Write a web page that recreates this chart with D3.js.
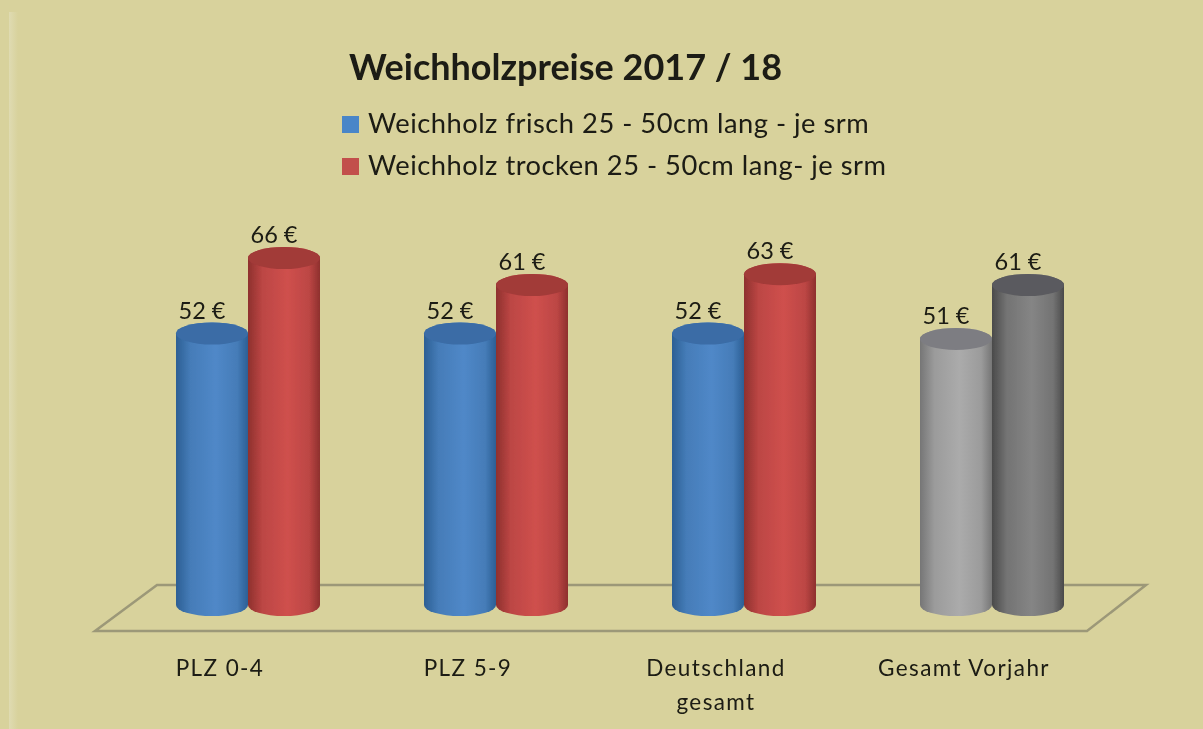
<!DOCTYPE html>
<html>
<head>
<meta charset="utf-8">
<script src="https://cdn.jsdelivr.net/npm/d3@7"></script>
<style>
  html, body { margin: 0; background: #d8d29c; }
  text { font-family: Lato, "Open Sans", sans-serif; fill: #1a1a12; }
</style>
</head>
<body>
<svg id="viz"></svg>
<script>
/* Data */

const categories = ["PLZ 0-4", "PLZ 5-9", "Deutschland gesamt", "Gesamt Vorjahr"];
const seriesNames = ["Weichholz frisch 25 - 50cm lang - je srm", "Weichholz trocken 25 - 50cm lang- je srm"];
const frisch = [52, 52, 52, 51];
const trocken = [66, 61, 63, 61];
const title = "Weichholzpreise 2017 / 18";

/* Environment */

const width = 1203, height = 729;

const svg = d3.select("#viz")
    .attr("width", width)
    .attr("height", height)
    .style("display", "block");

svg.append("rect").attr("width", width).attr("height", height).attr("fill", "#d8d29c");

/* Palette: edge, middle, lid */

const shades = {
  blue: ["#2c5f94", "#5088c8", "#3a6ca6"],
  red: ["#8e302e", "#cf504d", "#a23a39"],
  light: ["#767676", "#ababab", "#7d7d82"],
  dark: ["#4a4a4a", "#858585", "#5a5a5e"]
};

const defs = svg.append("defs");
Object.entries(shades).forEach(([name, c]) => {
  const g = defs.append("linearGradient").attr("id", "grad-" + name);
  g.append("stop").attr("offset", "0%").attr("stop-color", c[0]);
  g.append("stop").attr("offset", "20%").attr("stop-color", d3.interpolateRgb(c[0], c[1])(0.7));
  g.append("stop").attr("offset", "55%").attr("stop-color", c[1]);
  g.append("stop").attr("offset", "85%").attr("stop-color", d3.interpolateRgb(c[0], c[1])(0.7));
  g.append("stop").attr("offset", "100%").attr("stop-color", c[0]);
});
defs.append("filter").attr("id", "soft")
    .append("feGaussianBlur").attr("stdDeviation", 0.7);

const strip = defs.append("linearGradient").attr("id", "strip");
strip.append("stop").attr("offset", "0%").attr("stop-color", "#dfdbb2");
strip.append("stop").attr("offset", "100%").attr("stop-color", "#d8d29c");

/* Left edge of the screenshot */

svg.append("rect")
    .attr("x", 9).attr("y", 12)
    .attr("width", 9).attr("height", height - 12)
    .attr("fill", "url(#strip)");

/* Scales */

const x = d3.scaleBand().domain(categories).range([124, 1116]);
const inner = d3.scaleBand().domain([0, 1]).range([-72, 72]);
const y = d3.scaleLinear().domain([0, 66]).range([614, 258]);

const floorY = 605, rx = 36, ry = 11;

/* Layers */

const root = svg.append("g").attr("filter", "url(#soft)");
const gFloor = root.append("g");
const gBars = root.append("g");
const gLabels = root.append("g");

/* Floor */

const floor = d3.line()([[95, 631], [1087, 631], [1146, 585], [157, 585]]) + "Z";
gFloor.append("path")
    .attr("d", floor)
    .attr("fill", "none")
    .attr("stroke", "#9c9878")
    .attr("stroke-width", 2.5);

/* Cylinders */

const bars = categories.flatMap((c, i) => [
  {cat: c, series: 0, value: frisch[i], shade: i === 3 ? "light" : "blue"},
  {cat: c, series: 1, value: trocken[i], shade: i === 3 ? "dark" : "red"}
]);

const cyl = gBars.selectAll("g").data(bars).enter().append("g")
    .attr("transform", d => `translate(${x(d.cat) + x.bandwidth() / 2 + inner(d.series) + inner.bandwidth() / 2},0)`);

cyl.append("path")
    .attr("fill", d => `url(#grad-${d.shade})`)
    .attr("d", d => {
      const t = y(d.value);
      return `M${-rx},${t}L${-rx},${floorY}A${rx},${ry} 0 0 0 ${rx},${floorY}L${rx},${t}A${rx},${ry} 0 0 0 ${-rx},${t}Z`;
    });

cyl.append("ellipse")
    .attr("cy", d => y(d.value))
    .attr("rx", rx)
    .attr("ry", ry)
    .attr("fill", d => shades[d.shade][2]);

cyl.append("text")
    .attr("x", -10)
    .attr("y", d => y(d.value) - 15)
    .attr("text-anchor", "middle")
    .attr("font-size", 23.5)
    .text(d => d.value + " €");

/* Category labels */

gLabels.selectAll("text").data(categories).enter().append("text")
    .attr("text-anchor", "middle")
    .attr("font-size", 22.5)
    .attr("letter-spacing", 1.4)
    .attr("transform", d => `translate(${x(d) + x.bandwidth() / 2 - 28},676)`)
    .each(function(d) {
      const words = d === "Deutschland gesamt" ? d.split(" ") : [d];
      d3.select(this).selectAll("tspan").data(words).enter().append("tspan")
          .attr("x", 0)
          .attr("dy", (w, i) => i ? 34 : 0)
          .text(w => w);
    });

/* Title and legend */

root.append("text")
    .attr("x", 565.5).attr("y", 80)
    .attr("text-anchor", "middle")
    .attr("font-size", 36)
    .attr("font-weight", 700)
    .attr("fill", "#0e0e0a")
    .text(title);

const legend = root.append("g").selectAll("g").data(seriesNames).enter().append("g")
    .attr("transform", (d, i) => `translate(342,${116 + i * 42})`);

legend.append("rect")
    .attr("width", 17).attr("height", 17)
    .attr("fill", (d, i) => i ? "#c24f4c" : "#4a86c8");

legend.append("text")
    .attr("x", 26).attr("y", 17)
    .attr("font-size", 27.3)
    .attr("letter-spacing", 0.5)
    .text(d => d);
</script>
</body>
</html>
